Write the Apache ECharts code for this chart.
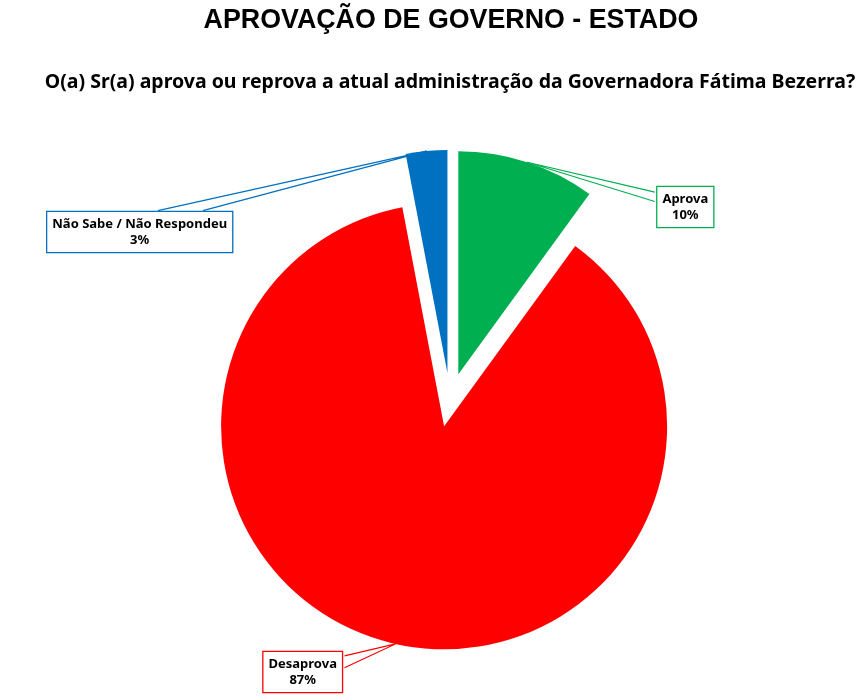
<!DOCTYPE html>
<html>
<head>
<meta charset="utf-8">
<script src="https://cdn.jsdelivr.net/npm/echarts@6/dist/echarts.min.js"></script>
<style>
  html, body { margin: 0; padding: 0; background: #fff; }
  #chart { width: 862px; height: 700px; }
</style>
</head>
<body>
<div id="chart"></div>
<script>
const categories = ['Aprova', 'Desaprova', 'Não Sabe / Não Respondeu'];
const values = [10, 87, 3];
const colors = ['#00b050', '#ff0000', '#0070c0'];

// callout box centres (px) and where the wedge meets the box (fractions of box w/h)
const labelPos = [[684, 207], [304, 672], [141, 232]];
const wedgeBase = [
  [0, 0.15, 0, 0.37],
  [1, 0.12, 1, 0.40],
  [0.59, 0, 0.83, 0]
];
const explode = 27;

const total = values.reduce((a, b) => a + b, 0);
// sin/cos of each slice's mid angle (clockwise from 12 o'clock)
const midDir = [];
let acc = 0;
values.forEach(v => {
  const a = (acc + v / 2) / total * 2 * Math.PI;
  midDir.push([Math.sin(a), -Math.cos(a)]);
  acc += v;
});

const chart = echarts.init(document.getElementById('chart'));

chart.setOption({
  animation: false,
  title: [{
    text: 'APROVAÇÃO DE GOVERNO - ESTADO',
    left: 446,
    textAlign: 'center',
    top: 2,
    textStyle: {
      fontFamily: 'Liberation Sans',
      fontWeight: 'bold',
      fontSize: 26.8,
      color: '#000'
    }
  }, {
    text: 'O(a) Sr(a) aprova ou reprova a atual administração da Governadora Fátima Bezerra?',
    left: 445,
    textAlign: 'center',
    top: 67,
    textStyle: {
      fontFamily: 'Noto Sans',
      fontWeight: 'bold',
      fontSize: 19.5,
      color: '#000'
    }
  }],
  series: [{
    type: 'pie',
    center: [450, 400],
    radius: 223,
    startAngle: 90,
    clockwise: true,
    selectedMode: 'multiple',
    selectedOffset: explode,
    emphasis: { scale: false, disabled: true },
    data: categories.map((name, i) => ({
      name: name,
      value: values[i],
      selected: true,
      itemStyle: { color: colors[i] },
      label: { borderColor: colors[i] }
    })),
    label: {
      show: true,
      position: 'outside',
      formatter: '{b}\n{c}%',
      fontFamily: 'Noto Sans',
      fontWeight: 'bold',
      fontSize: 13,
      lineHeight: 16,
      color: '#000',
      backgroundColor: '#fff',
      borderWidth: 1.3,
      padding: [4, 5]
    },
    labelLine: {
      show: true,
      length: 20,
      length2: 20,
      lineStyle: { width: 1.2 }
    },
    labelLayout: function (params) {
      const i = params.dataIndex;
      const r = params.labelRect;
      const d = midDir[i];
      // label lives in the exploded slice's frame
      const tx = labelPos[i][0] - d[0] * explode;
      const ty = labelPos[i][1] - d[1] * explode;
      const dx = tx - (r.x + r.width / 2);
      const dy = ty - (r.y + r.height / 2);
      const nx = r.x + dx;
      const ny = r.y + dy;
      const b = wedgeBase[i];
      // switching from left/right to centre alignment shifts the box by half its width
      const shift = (d[0] >= 0 ? 1 : -1) * r.width / 2;
      const out = { dx: dx + shift, dy: dy, align: 'center' };
      if (params.labelLinePoints) {
        const tip = params.labelLinePoints[0];
        out.labelLinePoints = [
          [nx + b[0] * r.width, ny + b[1] * r.height],
          [tip[0], tip[1]],
          [nx + b[2] * r.width, ny + b[3] * r.height]
        ];
      }
      return out;
    }
  }]
});
</script>
</body>
</html>
